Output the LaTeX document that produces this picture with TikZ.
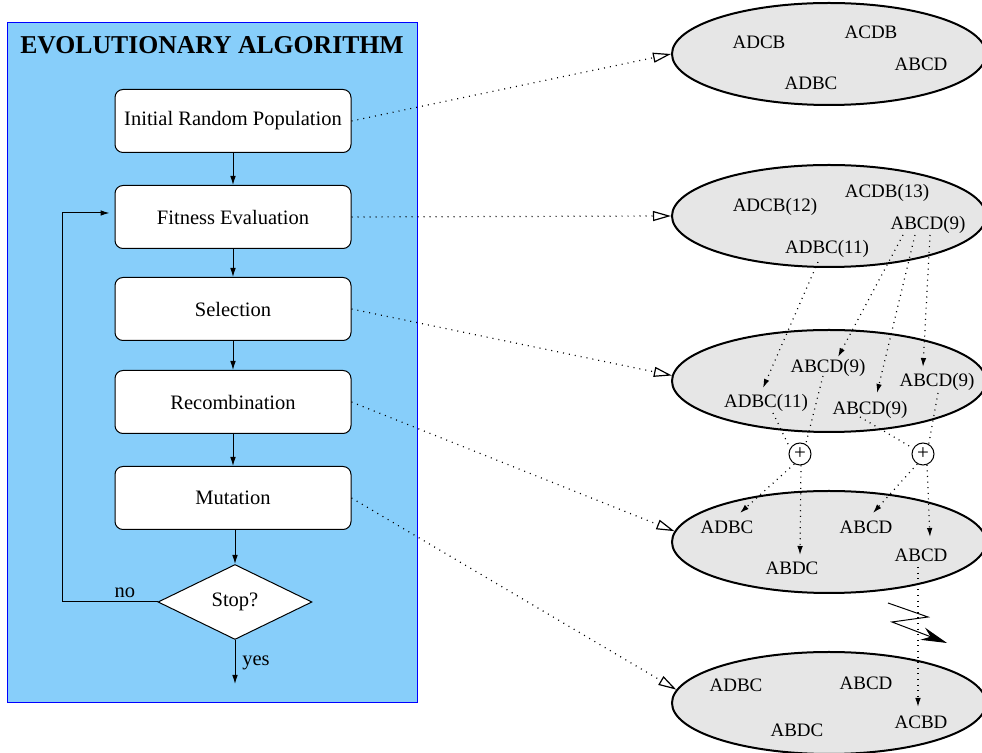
\documentclass[tikz,border=0pt]{standalone}
\usepackage{fontspec}
\setmainfont{Liberation Serif}
\usetikzlibrary{shapes.geometric,arrows.meta,calc}
\definecolor{bgblue}{RGB}{135,206,250}
\definecolor{ellgray}{RGB}{230,230,230}
\begin{document}
\begin{tikzpicture}[x=0.5pt,y=-0.5pt,
  box/.style={draw,rounded corners=4pt,fill=white,line width=0.5pt,minimum width=118pt,minimum height=31.5pt,inner sep=0pt,font=\fontsize{10.25}{12}\selectfont},
  pop/.style={ellipse,draw,line width=1pt,fill=ellgray,minimum width=157pt,minimum height=51pt,inner sep=0pt},
  lbl/.style={font=\fontsize{9.5}{11}\selectfont,inner sep=0pt},
  flow/.style={-{Latex[length=4.5pt,width=2.8pt]},line width=0.5pt},
  link/.style={dash pattern=on 0.5pt off 2.5pt,line width=0.6pt,-{Triangle[open,length=9pt,width=5pt]}},
  gene/.style={dash pattern=on 0.5pt off 2.3pt,line width=0.6pt},
  genearr/.style={gene,-{Latex[length=4.5pt,width=2.8pt]}},
  plus/.style={circle,draw,line width=0.5pt,fill=white,minimum size=11pt,inner sep=0pt,font=\fontsize{10.5}{10.5}\selectfont}
]
\useasboundingbox (0,0) rectangle (982,753);

% background panel
\node[draw=blue,fill=bgblue,line width=0.5pt,minimum width=205pt,minimum height=340pt,inner sep=0pt] (bg) at (212,363) {};
\node[font=\fontsize{12.85}{15}\selectfont\bfseries] (title) at (212,45) {EVOLUTIONARY ALGORITHM};

% flowchart
\node[box] (init) at (233,121) {Initial Random Population};
\node[box] (fit)  at (233,217) {Fitness Evaluation};
\node[box] (sel)  at (233,309) {Selection};
\node[box] (rec)  at (233,402) {Recombination};
\node[box] (mut)  at (233,498) {Mutation};
\node[diamond,draw,fill=white,line width=0.5pt,inner sep=0pt,aspect=2,minimum width=77pt,minimum height=37.5pt,font=\fontsize{10.25}{12}\selectfont] (stop) at (235,602) {Stop?};

\draw[flow] (init) -- (fit);
\draw[flow] (fit) -- (sel);
\draw[flow] (sel) -- (rec);
\draw[flow] (rec) -- (mut);
\draw[flow] (stop.north |- mut.south) -- (stop.north);
\coordinate (lp) at (62,602);
\draw[flow] (stop.west) -- (lp) |- ($(fit.west)+(-5,-4)$);
\node[font=\fontsize{10.25}{12}\selectfont] (no) at (125,593) {no};
\coordinate (yesend) at (235,684);
\draw[flow] (stop.south) -- (yesend);
\node[font=\fontsize{10.25}{12}\selectfont] (yes) at (256,663) {yes};

% populations
\node[pop] (e1) at (829,54) {};
\node[pop] (e2) at (829,216) {};
\node[pop] (e3) at (829,381) {};
\node[pop] (e4) at (829,542) {};
\node[pop] (e5) at (829,703) {};

\node[lbl] (e1a) at (759,42) {ADCB};
\node[lbl] (e1b) at (871,32) {ACDB};
\node[lbl] (e1c) at (921,64) {ABCD};
\node[lbl] (e1d) at (811,83) {ADBC};

\node[lbl] (e2a) at (775,207) {ADCB(12)};
\node[lbl] (e2b) at (887,193) {ACDB(13)};
\node[lbl] (e2c) at (928,225) {ABCD(9)};
\node[lbl] (e2d) at (827,249) {ADBC(11)};

\node[lbl] (e3a) at (828,368) {ABCD(9)};
\node[lbl] (e3b) at (937,382) {ABCD(9)};
\node[lbl] (e3c) at (766,403) {ADBC(11)};
\node[lbl] (e3d) at (870,410) {ABCD(9)};

\node[plus] (p1) at (800,454) {+};
\node[plus] (p2) at (923,454) {+};

\node[lbl] (e4a) at (727,527) {ADBC};
\node[lbl] (e4b) at (792,568) {ABDC};
\node[lbl] (e4c) at (866,527) {ABCD};
\node[lbl] (e4d) at (921,555) {ABCD};

\node[lbl] (e5a) at (736,685) {ADBC};
\node[lbl] (e5b) at (866,683) {ABCD};
\node[lbl] (e5c) at (797,730) {ABDC};
\node[lbl] (e5d) at (921,722) {ACBD};

% links from flowchart to populations
\draw[link] (init.east) -- (e1.west);
\draw[link] (fit.east) -- (e2.west);
\draw[link] (sel.east) -- (e3.178);
\draw[link] (rec.east) -- (e4.176);
\draw[link] (mut.east) -- (e5.175);

% selection
\draw[genearr] ($(e2d)+(-9,13)$) -- ($(e3c)+(-3,-15)$);
\draw[genearr] ($(e2c)+(-25,10)$) -- ($(e3a)+(10,-11)$);
\draw[genearr] ($(e2c)+(-13,10)$) -- ($(e3d)+(7,-17)$);
\draw[genearr] ($(e2c)+(2,10)$) -- ($(e3b)+(-14,-15)$);

% recombination
\draw[gene] ($(e3c)+(7,10)$) -- (p1.150);
\draw[gene] ($(e3a)+(-5,8)$) -- (p1.60);
\draw[gene] ($(e3d)+(-10,7)$) -- (p2.150);
\draw[gene] ($(e3b)+(1,11)$) -- (p2.60);

\draw[genearr] (p1.240) -- ($(e4a)+(13,-14)$);
\draw[genearr] (p1.275) -- ($(e4b)+(8,-13)$);
\draw[genearr] (p2.240) -- ($(e4c)+(7,-14)$);
\draw[genearr] (p2.290) -- ($(e4d)+(9,-18)$);

% mutation
\draw[genearr] ($(e4d)+(-3,12)$) -- ($(e5d)+(-3,-15)$);
\draw[line width=0.5pt,-{Stealth[length=13pt,width=6.5pt]}] (888,603) -- (928,617) -- (892,622) -- (947,643);
\end{tikzpicture}
\end{document}
